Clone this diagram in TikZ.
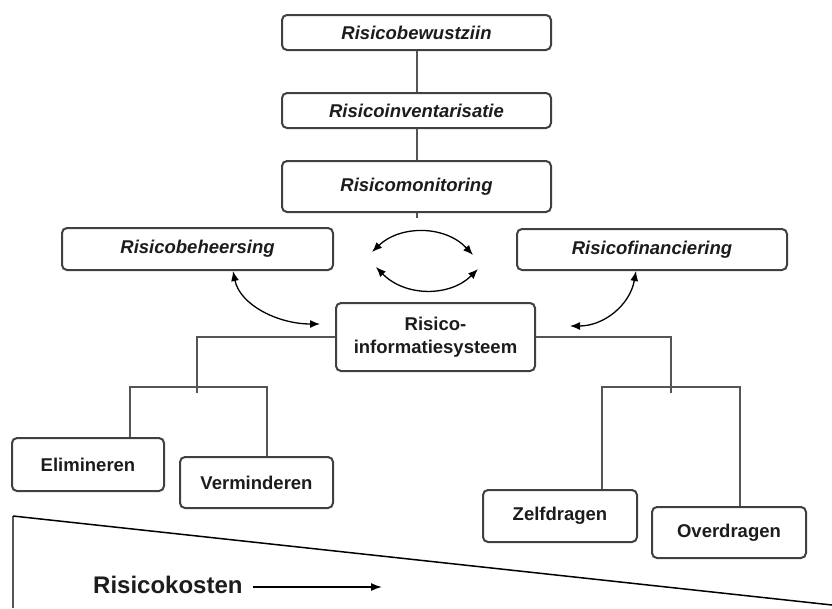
\documentclass[tikz,border=0pt]{standalone}
\usepackage{fontspec}
\setmainfont{Liberation Sans}
\usetikzlibrary{arrows.meta}
\definecolor{boxline}{HTML}{404040}
\definecolor{conline}{HTML}{555555}
\definecolor{txt}{HTML}{1C1C1C}
\begin{document}
\begin{tikzpicture}[x=1pt,y=-1pt,
  stage/.style={draw=boxline, line width=2pt, rounded corners=5pt, fill=white,
    text=txt, inner sep=0pt, font=\fontsize{18.5}{22.5}\selectfont\bfseries\itshape},
  leaf/.style={stage, font=\fontsize{18.5}{22.5}\selectfont\bfseries},
  link/.style={draw=conline, line width=2pt},
  flow/.style={draw=black, line width=1.3pt, {Latex[length=10pt,width=8pt]}-{Latex[length=10pt,width=8pt]}}]
\useasboundingbox (0,0) rectangle (832,608);

% cycle of the top stages
\node[stage, minimum width=269pt, minimum height=35pt] (bewust) at (416.5,32.5) {Risicobewustziin};
\node[stage, minimum width=269pt, minimum height=35pt] (invent) at (416.5,110.5) {Risicoinventarisatie};
\node[stage, minimum width=269pt, minimum height=51pt] (monit) at (416.5,186.5) {Risicomonitoring};
\node[stage, minimum width=271pt, minimum height=42pt] (beheer) at (197.5,249) {Risicobeheersing};
\node[stage, minimum width=270pt, minimum height=41pt] (financ) at (652,249.5) {Risicofinanciering};

% information system in the middle
\node[leaf, minimum width=199pt, minimum height=68pt, align=center] (info) at (435.5,337) {Risico-\\informatiesysteem};

% measures
\node[leaf, minimum width=152pt, minimum height=53pt] (elim) at (88,464.5) {Elimineren};
\node[leaf, minimum width=153pt, minimum height=51pt] (verm) at (256.5,482.5) {Verminderen};
\node[leaf, minimum width=154pt, minimum height=52pt] (zelf) at (560,516) {Zelfdragen};
\node[leaf, minimum width=154pt, minimum height=51pt] (over) at (729,532.5) {Overdragen};

% vertical chain
\coordinate (stub) at (416.5,218);
\draw[link] (bewust) -- (invent);
\draw[link] (invent) -- (monit);
\draw[link] (monit) -- (stub);

% left branch
\coordinate (lsplit) at (197,393);
\coordinate (bl) at (130,387);
\coordinate (br) at (267,387);
\draw[link] (info.west) -| (lsplit);
\draw[link] (elim.north -| bl) -- (bl) -- (br) -- (verm.north -| br);

% right branch
\coordinate (rsplit) at (671,393);
\coordinate (cl) at (602,387);
\coordinate (cr) at (740,387);
\draw[link] (info.east) -| (rsplit);
\draw[link] (zelf.north -| cl) -- (cl) -- (cr) -- (over.north -| cr);

% exchange arrows
\coordinate (ua) at (372,252);
\coordinate (ub) at (473,255);
\coordinate (la) at (376,267);
\coordinate (lb) at (478,269);
\draw[flow] (ua) .. controls (400,225) and (445,225) .. (ub);
\draw[flow] (la) .. controls (405,297) and (450,297) .. (lb);

\coordinate (infl) at (320,324);
\coordinate (infr) at (570,326);
\draw[flow] (beheer.south -| 233,0) .. controls (240,305) and (278,324) .. (infl);
\draw[flow] (financ.south -| 636,0) .. controls (630,305) and (604,326) .. (infr);

% cost wedge
\coordinate (wtop) at (13,516);
\draw[draw=conline, line width=2pt] (13,608) -- (wtop);
\draw[black, line width=1.5pt] (wtop) -- (832,605);
\node[anchor=base west, inner sep=0pt, text=txt, font=\fontsize{24}{28}\selectfont\bfseries] (kosten) at (93,593) {Risicokosten};
\coordinate (kend) at (382,587);
\draw[black, line width=1.5pt, -{Latex[length=11pt,width=8pt]}] (kosten.east |- kend) ++(10,0) -- (kend);
\end{tikzpicture}
\end{document}
